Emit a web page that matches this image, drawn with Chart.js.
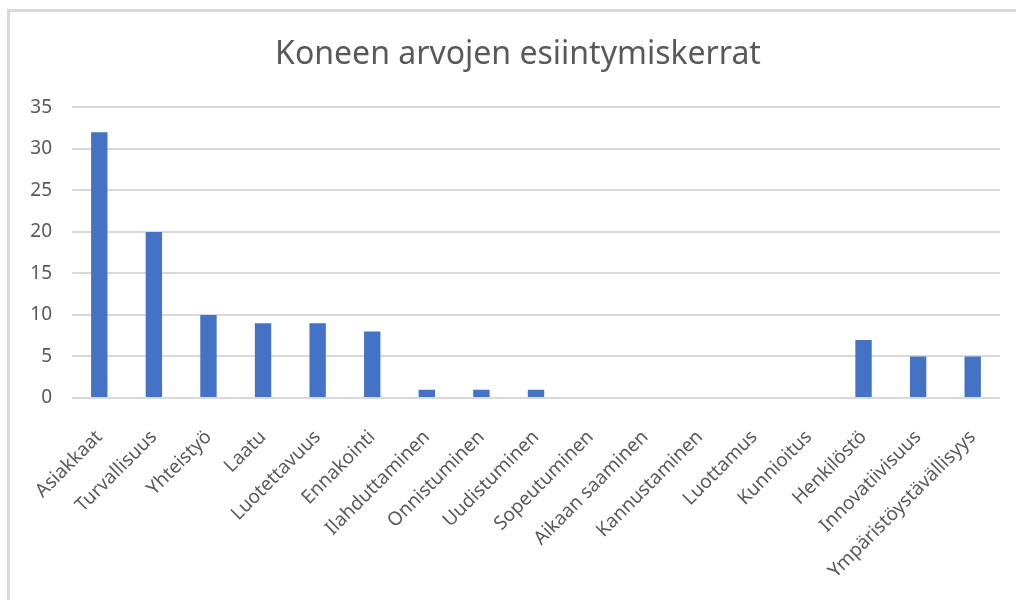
<!DOCTYPE html>
<html>
<head>
<meta charset="utf-8">
<script src="https://cdn.jsdelivr.net/npm/chart.js@4/dist/chart.umd.min.js"></script>
<style>
  body { margin: 0; background: #fff; }
  #wrap { position: relative; width: 1016px; height: 600px; }
  #frame { position: absolute; left: 7px; top: 9px; right: 0; bottom: 0; border-left: 3px solid #d9d9d9; border-top: 3px solid #d9d9d9; }
  canvas { position: absolute; left: 0; top: 0; }
</style>
</head>
<body>
<div id="wrap">
  <div id="frame"></div>
  <canvas id="chart" width="1016" height="600"></canvas>
</div>
<script>
const labels = ['Asiakkaat', 'Turvallisuus', 'Yhteistyö', 'Laatu', 'Luotettavuus', 'Ennakointi',
  'Ilahduttaminen', 'Onnistuminen', 'Uudistuminen', 'Sopeutuminen', 'Aikaan saaminen',
  'Kannustaminen', 'Luottamus', 'Kunnioitus', 'Henkilöstö', 'Innovatiivisuus', 'Ympäristöystävällisyys']
const counts = [32, 20, 10, 9, 9, 8, 1, 1, 1, 0, 0, 0, 0, 0, 7, 5, 5]
const yTicks = [0, 5, 10, 15, 20, 25, 30, 35]

const gray = '#595959'
const font = 'Noto Sans'

// title sits a bit right of canvas centre in the original
const shiftTitle = {
  id: 'shiftTitle',
  afterLayout: chart => {
    if (chart.titleBlock) chart.titleBlock.left = 36
  }
}

new Chart(document.getElementById('chart'), {
  type: 'bar',
  data: {
    labels: labels,
    datasets: [{
      data: counts,
      backgroundColor: '#4472C4',
      categoryPercentage: 1,
      barPercentage: 0.3
    }]
  },
  options: {
    responsive: false,
    animation: false,
    layout: { padding: { left: 0, right: 16, top: 0, bottom: 0 } },
    plugins: {
      legend: { display: false },
      tooltip: { enabled: false },
      title: {
        display: true,
        text: 'Koneen arvojen esiintymiskerrat',
        color: gray,
        font: { family: font, size: 32, weight: 'normal' },
        padding: { top: 36, bottom: 33 }
      }
    },
    scales: {
      x: {
        grid: { display: false },
        border: { display: false },
        ticks: {
          color: gray,
          font: { family: font, size: 19 },
          maxRotation: 45,
          minRotation: 45,
          autoSkip: false,
          padding: 20
        },
        afterFit: s => { s.height = 202 }
      },
      y: {
        min: 0,
        max: 35,
        afterBuildTicks: s => { s.ticks = yTicks.map(v => ({ value: v })) },
        grid: { color: '#d9d9d9', lineWidth: 2, drawTicks: false },
        border: { display: false },
        ticks: {
          color: gray,
          font: { family: font, size: 19 },
          padding: 20
        },
        afterFit: s => { s.width = 72 }
      }
    }
  },
  plugins: [shiftTitle]
})
</script>
</body>
</html>
